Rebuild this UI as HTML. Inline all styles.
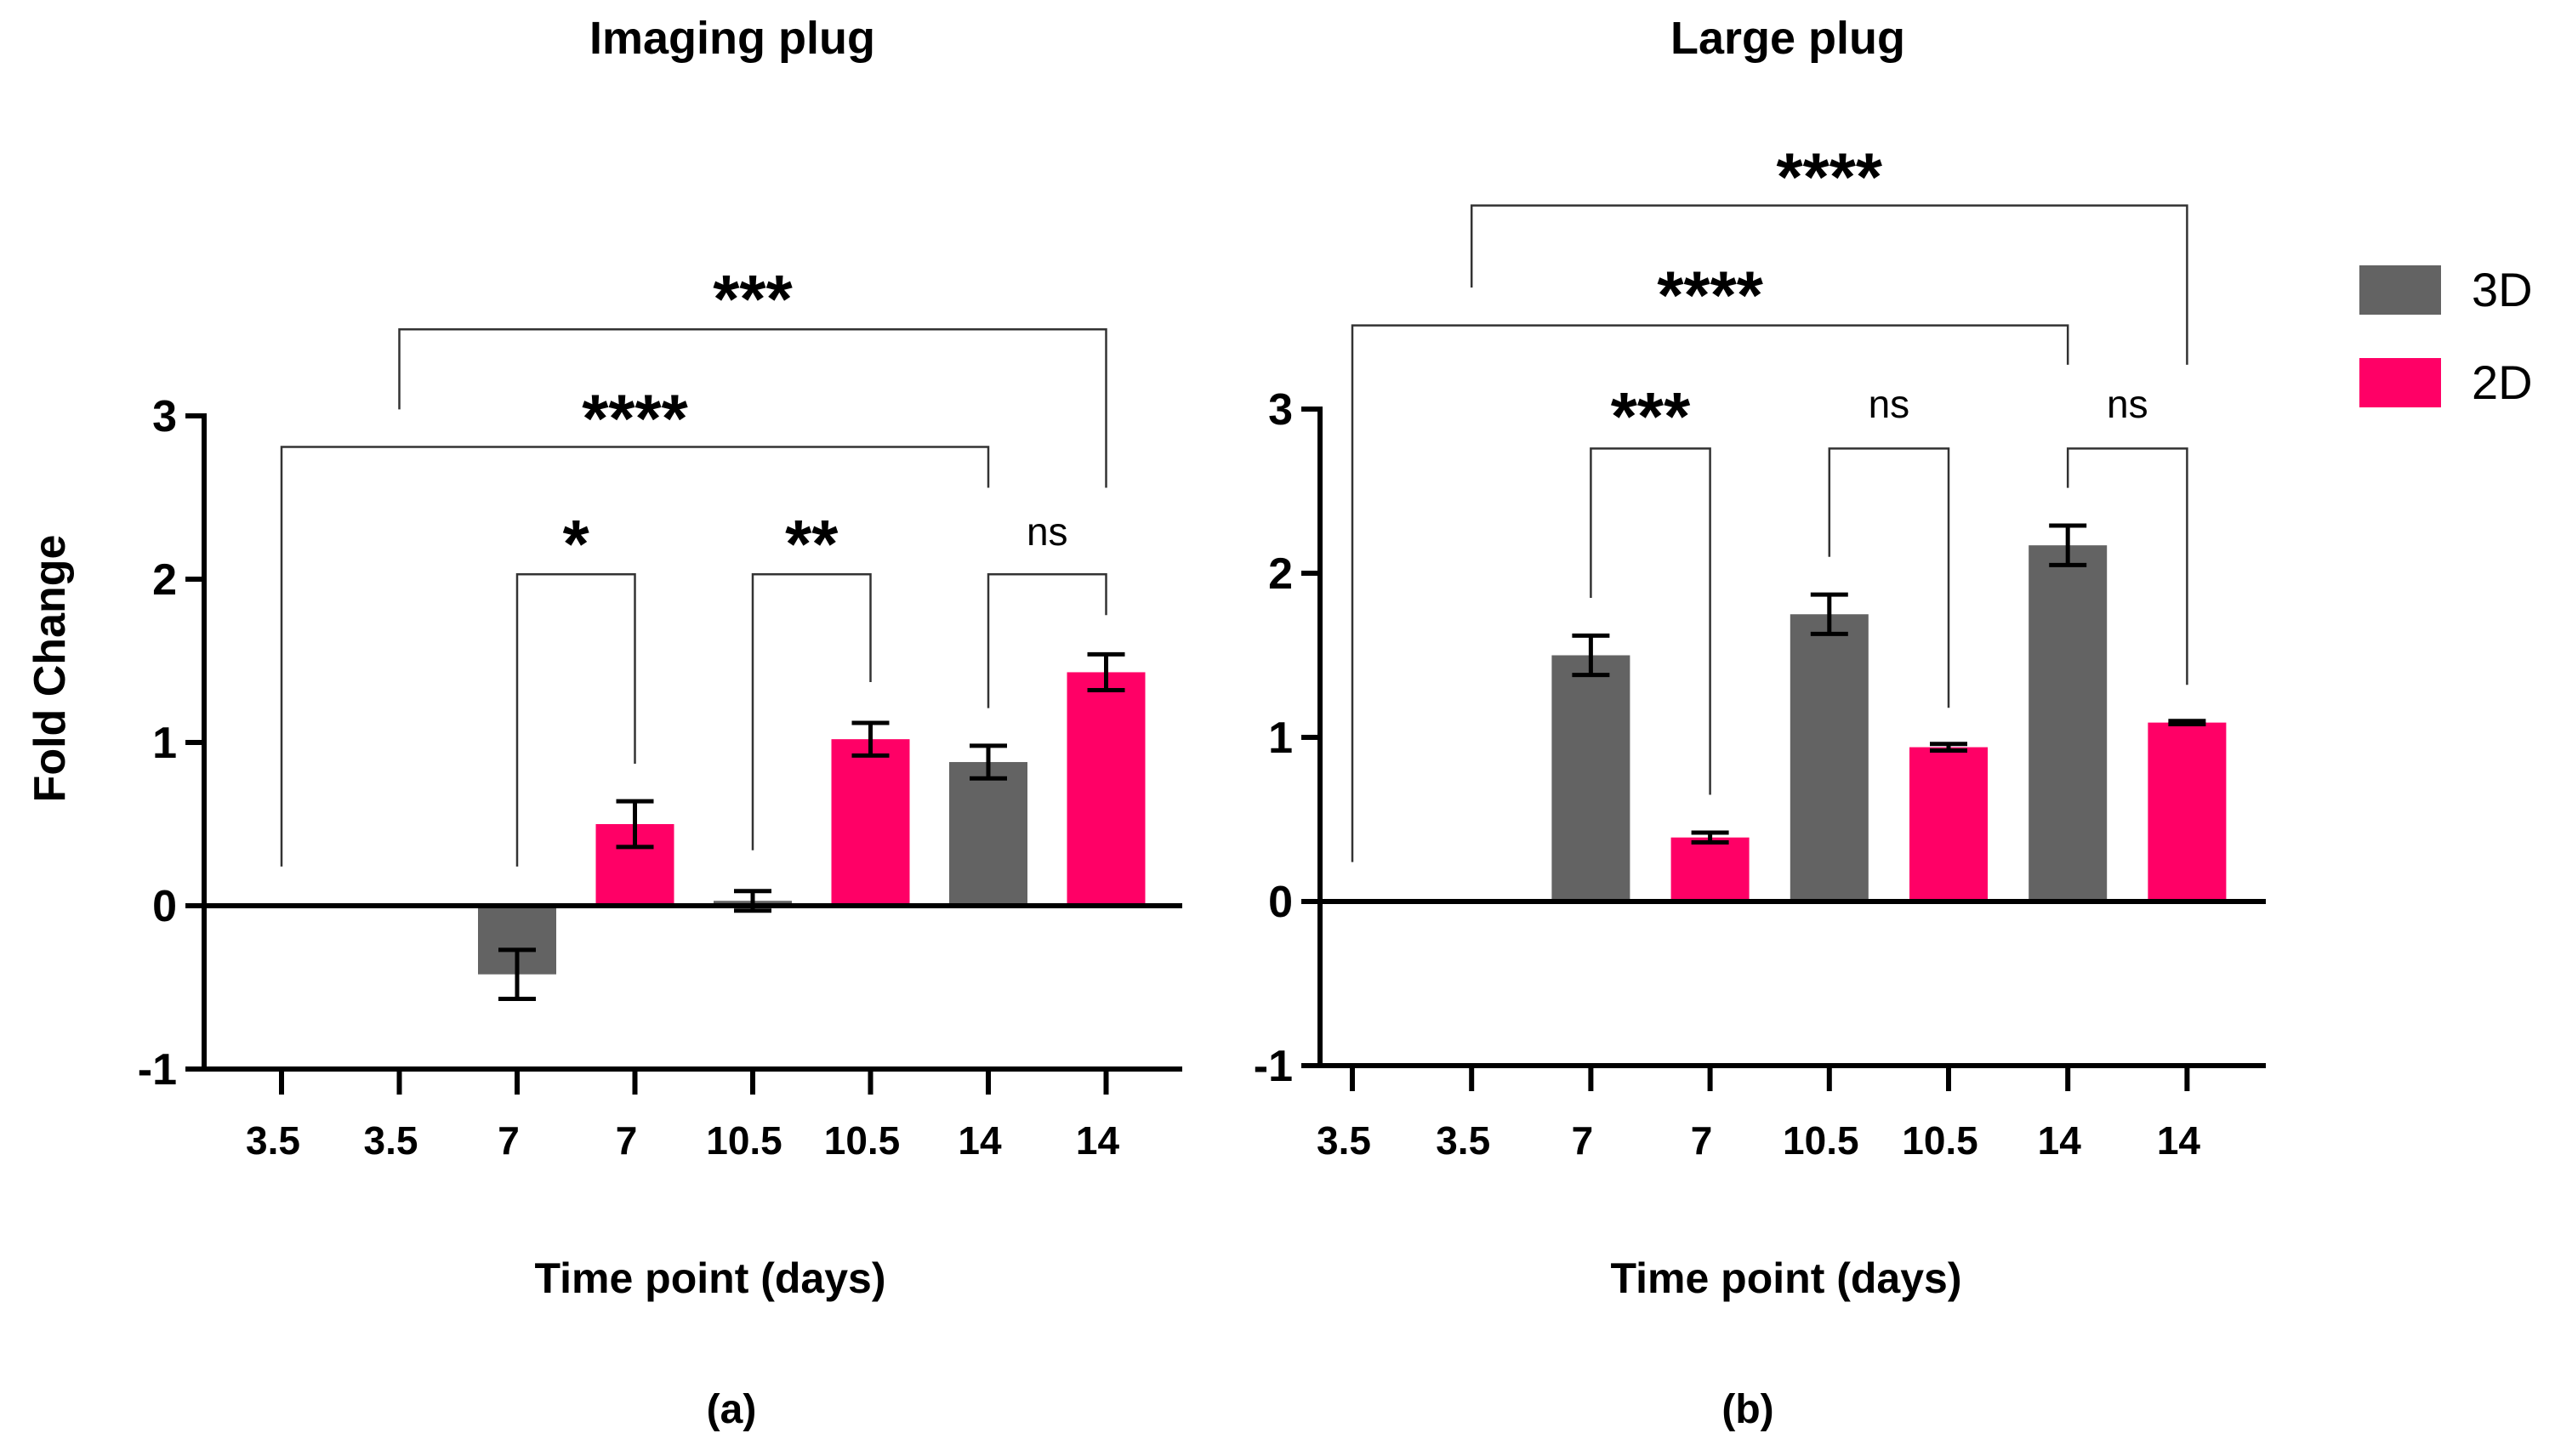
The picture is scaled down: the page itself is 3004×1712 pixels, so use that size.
<!DOCTYPE html>
<html><head><meta charset="utf-8">
<style>
html,body{margin:0;padding:0;background:#fff;}
svg{display:block;font-family:"Liberation Sans",sans-serif;}
</style></head>
<body>
<svg id="chart" width="3004" height="1712" viewBox="0 0 3004 1712" xmlns="http://www.w3.org/2000/svg">
<text x="861" y="63" font-size="54" font-weight="bold" text-anchor="middle">Imaging plug</text>
<text x="2102" y="63" font-size="54" font-weight="bold" text-anchor="middle">Large plug</text>
<text transform="translate(76,786) rotate(-90)" font-size="52" font-weight="bold" text-anchor="middle">Fold Change</text>
<text x="835" y="1520" font-size="50" font-weight="bold" text-anchor="middle">Time point (days)</text>
<text x="2100" y="1520" font-size="50" font-weight="bold" text-anchor="middle">Time point (days)</text>
<text x="860" y="1673" font-size="48" font-weight="bold" text-anchor="middle">(a)</text>
<text x="2055" y="1673" font-size="48" font-weight="bold" text-anchor="middle">(b)</text>
<g>
<rect x="2774" y="312" width="96" height="58" fill="#636363"/>
<text x="2906" y="360" font-size="56">3D</text>
<rect x="2774" y="421" width="96" height="58" fill="#ff0066"/>
<text x="2906" y="469" font-size="56">2D</text>
</g>
</svg>
<script>
// ---- data ----
const categories = ["3.5","3.5","7","7","10.5","10.5","14","14"];
const groups = ["3D","2D","3D","2D","3D","2D","3D","2D"];
const yTicks = [-1,0,1,2,3];
const aValues = [0,0,-0.42,0.5,0.03,1.02,0.88,1.43];
const aErrors = [0,0,0.15,0.14,0.06,0.1,0.1,0.11];
const bValues = [0,0,1.5,0.39,1.75,0.94,2.17,1.09];
const bErrors = [0,0,0.12,0.03,0.12,0.02,0.12,0.01];
// brackets: [i, j, top, leftEnd, rightEnd, label, labelY]
const aBrackets = [
 [1,7,3.53,3.04,2.56,"***",3.78],
 [0,6,2.81,0.24,2.56,"****",3.05],
 [2,3,2.03,0.24,0.87,"*",2.28],
 [4,5,2.03,0.34,1.37,"**",2.28],
 [6,7,2.03,1.21,1.78,"ns",2.28]
];
const bBrackets = [
 [1,7,4.24,3.74,3.27,"****",4.48],
 [0,6,3.51,0.24,3.27,"****",3.76],
 [2,3,2.76,1.85,0.65,"***",3.02],
 [4,5,2.76,2.10,1.18,"ns",3.02],
 [6,7,2.76,2.52,1.32,"ns",3.02]
];
// ---- drawing ----
const NS="http://www.w3.org/2000/svg";
const svg=document.getElementById("chart");
function mk(tag,attrs,parent){const e=document.createElementNS(NS,tag);for(const k in attrs)e.setAttribute(k,attrs[k]);(parent||svg).appendChild(e);return e;}
function panel(p,values,errors,brackets,tag){
  const x=i=>p.x0+i*p.step;
  const y=v=>p.y0-v*p.unit;
  const g=mk("g",{});
  
  
  values.forEach((v,i)=>{
    if(v===0) return;
    const r=mk("rect",{x:x(i)-46,y:Math.min(y(v),y(0)),width:92,height:Math.abs(y(v)-y(0)),fill:groups[i]==="3D"?"#636363":"#ff0066"},g);
    
    
  });
  values.forEach((v,i)=>{
    if(v===0) return;
    const e=errors[i];
    const eg=mk("g",{stroke:"#000","stroke-width":5,fill:"none"},g);
    
    
    mk("line",{x1:x(i),x2:x(i),y1:y(v-e),y2:y(v+e)},eg);
    mk("line",{x1:x(i)-22,x2:x(i)+22,y1:y(v-e),y2:y(v-e)},eg);
    mk("line",{x1:x(i)-22,x2:x(i)+22,y1:y(v+e),y2:y(v+e)},eg);
  });
  const ax=mk("g",{stroke:"#000","stroke-width":6},g);
  
  
  mk("line",{x1:p.ax,x2:p.ax,y1:y(3)-3,y2:y(-1)+3},ax);
  mk("line",{x1:p.ax-3,x2:p.xEnd,y1:y(0),y2:y(0)},ax);
  mk("line",{x1:p.ax-3,x2:p.xEnd,y1:y(-1),y2:y(-1)},ax);
  yTicks.forEach(t=>{
    mk("line",{x1:p.ax-22,x2:p.ax,y1:y(t),y2:y(t)},ax);
    const tx=mk("text",{x:p.ax-32,y:y(t)+18,"font-size":52,"font-weight":"bold","text-anchor":"end",stroke:"none"},g);
    tx.textContent=t;
    
    
  });
  categories.forEach((c,i)=>{
    mk("line",{x1:x(i),x2:x(i),y1:y(-1),y2:y(-1)+30},ax);
    const tx=mk("text",{x:x(i)-10,y:p.labY,"font-size":46,"font-weight":"bold","text-anchor":"middle"},g);
    tx.textContent=c;
    
    
  });
  brackets.forEach(b=>{
    const bg=mk("g",{},g);
    
    
    mk("polyline",{points:`${x(b[0])},${y(b[3])} ${x(b[0])},${y(b[2])} ${x(b[1])},${y(b[2])} ${x(b[1])},${y(b[4])}`,fill:"none",stroke:"#333","stroke-width":2.5},bg);
    const ns=b[5]==="ns";
    const t=mk("text",{x:(x(b[0])+x(b[1]))/2,y:y(b[6])+(ns?14:40),"font-size":ns?46:80,"font-weight":ns?"normal":"bold","text-anchor":"middle"},bg);
    t.textContent=b[5];
  });
}
panel({x0:331,step:138.5,y0:1065,unit:192,ax:240,xEnd:1390,labY:1357},aValues,aErrors,aBrackets,"panel-a");
panel({x0:1590,step:140.2,y0:1060,unit:193,ax:1552,xEnd:2664,labY:1357},bValues,bErrors,bBrackets,"panel-b");
</script>
</body></html>
